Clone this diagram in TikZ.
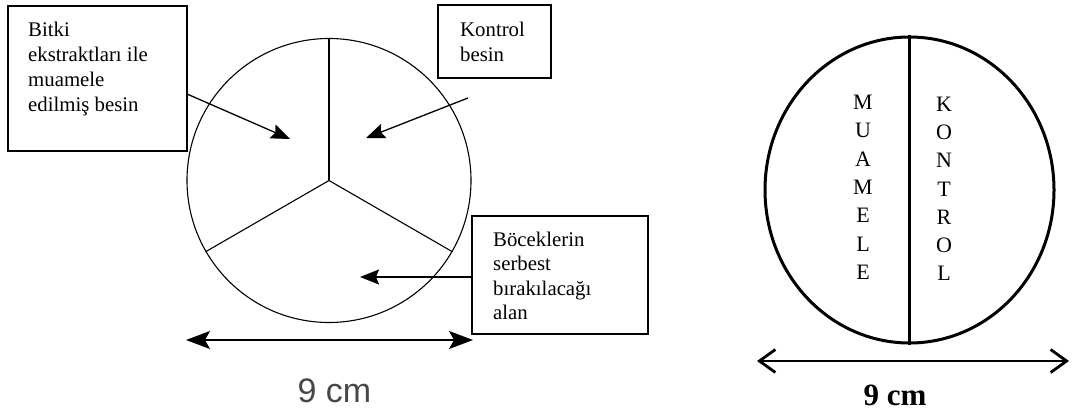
\documentclass[tikz,border=0pt]{standalone}
\usepackage{fontspec}
\setmainfont{Liberation Serif}
\newfontfamily\arialfont{Liberation Sans}
\usetikzlibrary{arrows.meta,shapes.geometric}

\begin{document}
\begin{tikzpicture}[x=1pt,y=-1pt,
  panel/.style={draw, line width=1.1pt, inner sep=0pt, outer sep=0pt, anchor=north west},
  note/.style={anchor=north west, inner sep=0pt, align=left, font=\fontsize{20.8}{25}\selectfont},
  thin dish/.style={circle, draw, line width=1.1pt, inner sep=0pt, minimum size=284pt},
  pointer/.style={line width=1.3pt, -{Stealth[length=19pt,width=15pt,inset=3pt]}},
  span/.style={line width=1.5pt, {Stealth[length=24pt,width=18pt,inset=5pt]}-{Stealth[length=24pt,width=18pt,inset=5pt]}},
  bold dish/.style={ellipse, draw, line width=3pt, inner sep=0pt, minimum width=289pt, minimum height=306pt},
  bold span/.style={line width=2.8pt, {Straight Barb[length=16pt,width=23pt]}-{Straight Barb[length=16pt,width=23pt]}},
  column/.style={anchor=north, inner sep=0pt, align=center, font=\fontsize{22}{28.3}\selectfont}]

\useasboundingbox (0,0) rectangle (1073,414);

% ---------- three-sector dish ----------
\node[thin dish] (dish) at (329,180.5) {};
\draw[line width=1.3pt] (dish.center) -- (dish.90);
\draw[line width=1.1pt] (dish.center) -- (dish.210);
\draw[line width=1.1pt] (dish.center) -- (dish.330);

% label boxes
\node[panel, minimum width=179pt, minimum height=145pt] (treated) at (8,6) {};
\node[note] (treatedtxt) at (28,22) {Bitki\\ekstraktları ile\\muamele\\edilmiş besin};

\node[panel, minimum width=113pt, minimum height=73pt] (control) at (438,5) {};
\node[note] (controltxt) at (460,21.7) {Kontrol\\besin};

\node[panel, minimum width=176pt, minimum height=118pt] (release) at (472,216) {};
\node[note, font=\fontsize{20.8}{24.5}\selectfont] (releasetxt) at (493,231.5) {Böceklerin\\serbest\\bırakılacağı\\alan};

% pointers into the sectors
\coordinate (tipA) at (290,139);
\coordinate (tailB) at (468,98);
\coordinate (tipB) at (366,138);
\coordinate (tipC) at (360,277);
\draw[pointer] ([yshift=-15.5pt]treated.east) -- (tipA);
\draw[pointer] (tailB) -- (tipB);
\draw[pointer] ([yshift=-2pt]release.west) -- ([yshift=-2pt]release.west -| tipC);

% diameter
\coordinate (spanL) at (186,340);
\coordinate (spanR) at (473,340);
\draw[span] (spanL) -- (spanR);
\node[anchor=base, inner sep=0pt, text=black!72, font=\arialfont\fontsize{34}{34}\selectfont] (dimA) at (334.5,402) {9 cm};

% ---------- two-half dish ----------
\node[bold dish] (dish2) at (909.5,190) {};
\draw[line width=3pt] (dish2.north) -- (dish2.south);
\node[column] (muamele) at (863,95) {M\\U\\A\\M\\E\\L\\E};
\node[column] (kontrol) at (944,96.5) {K\\O\\N\\T\\R\\O\\L};

\coordinate (spanL2) at (757,361);
\coordinate (spanR2) at (1069,361);
\draw[bold span] (spanL2) -- (spanR2);
\node[anchor=base, inner sep=0pt, font=\bfseries\fontsize{31}{31}\selectfont] (dimB) at (895,405) {9 cm};

\end{tikzpicture}
\end{document}
